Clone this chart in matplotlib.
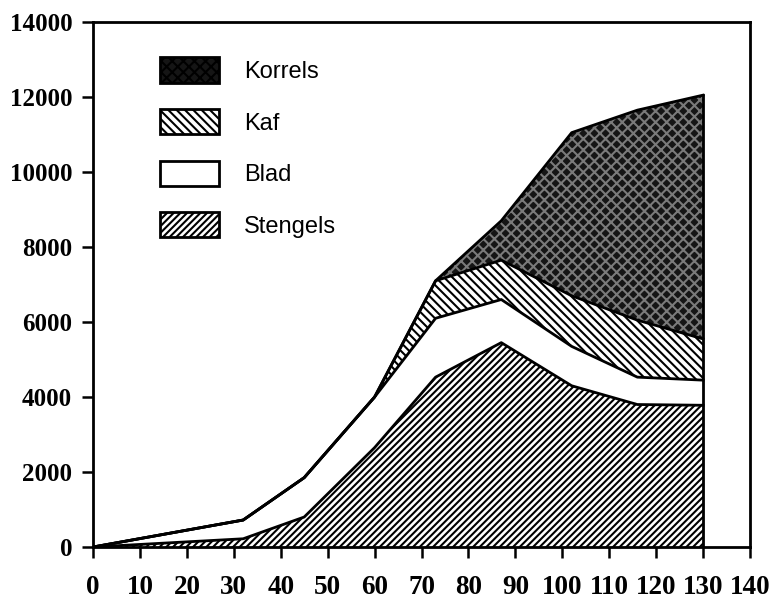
import matplotlib
matplotlib.use('Agg')
import matplotlib.pyplot as plt
from matplotlib.patches import Patch
import numpy as np

# days after sowing and dry matter per component (stacked)
dagen = [0, 32, 45, 60, 73, 87, 102, 116, 130]
stengels = [0, 220, 800, 2650, 4530, 5450, 4300, 3800, 3780]
blad = [0, 500, 1050, 1350, 1570, 1150, 1050, 730, 670]
kaf = [0, 0, 0, 0, 1000, 1050, 1350, 1520, 1100]
korrels = [0, 0, 0, 0, 0, 1050, 4350, 5600, 6500]
namen = ['Stengels', 'Blad', 'Kaf', 'Korrels']

xticks = list(range(0, 141, 10))
yticks = list(range(0, 14001, 2000))

plt.rcParams['hatch.linewidth'] = 1.5

fig = plt.figure(figsize=(7.72, 6), dpi=100)
ax = fig.add_axes([0.1205, 0.0883, 0.851, 0.875])

h_stengels = '/' * 5
h_kaf = '\\' * 4
h_korrels = 'xxx'

lagen = [stengels, blad, kaf, korrels]
stijl = [
    dict(facecolor='white', edgecolor='black', hatch=h_stengels),
    dict(facecolor='white', edgecolor='black', hatch=None),
    dict(facecolor='white', edgecolor='black', hatch=h_kaf),
    dict(facecolor='#151515', edgecolor='#7a7a7a', hatch=h_korrels),
]

onder = np.zeros(len(dagen))
for laag, st in zip(lagen, stijl):
    boven = onder + np.array(laag)
    ax.fill_between(dagen, onder, boven, linewidth=0, **st)
    ax.plot(dagen, boven, color='black', lw=2, solid_joinstyle='round')
    onder = boven
ax.plot([dagen[-1], dagen[-1]], [0, onder[-1]], color='black', lw=2)

ax.set_xlim(0, 140)
ax.set_ylim(0, 14000)
ax.set_xticks(xticks)
ax.set_yticks(yticks)
for s in ax.spines.values():
    s.set_linewidth(2)
ax.tick_params(direction='out', length=8, width=1.8, color='black')
ax.tick_params(axis='x', pad=12)
ax.tick_params(axis='y', pad=7)
for lab in ax.get_xticklabels():
    lab.set_fontfamily('Liberation Serif')
    lab.set_fontweight('bold')
    lab.set_fontsize(19.5)
for lab in ax.get_yticklabels():
    lab.set_fontfamily('Liberation Serif')
    lab.set_fontweight('bold')
    lab.set_fontsize(18)

handles = [
    Patch(facecolor='#151515', edgecolor='black', hatch=h_korrels, lw=2, label='Korrels'),
    Patch(facecolor='white', edgecolor='black', hatch=h_kaf, lw=2, label='Kaf'),
    Patch(facecolor='white', edgecolor='black', lw=2, label='Blad'),
    Patch(facecolor='white', edgecolor='black', hatch=h_stengels, lw=2, label='Stengels'),
]
ax.legend(handles=handles, loc='upper left', bbox_to_anchor=(0.084, 0.955),
          frameon=False, borderpad=0, handlelength=2.5, handleheight=1.27,
          labelspacing=1.1, handletextpad=1.05,
          prop={'family': 'Liberation Sans', 'size': 17})

fig.savefig('out.png', dpi=100)
